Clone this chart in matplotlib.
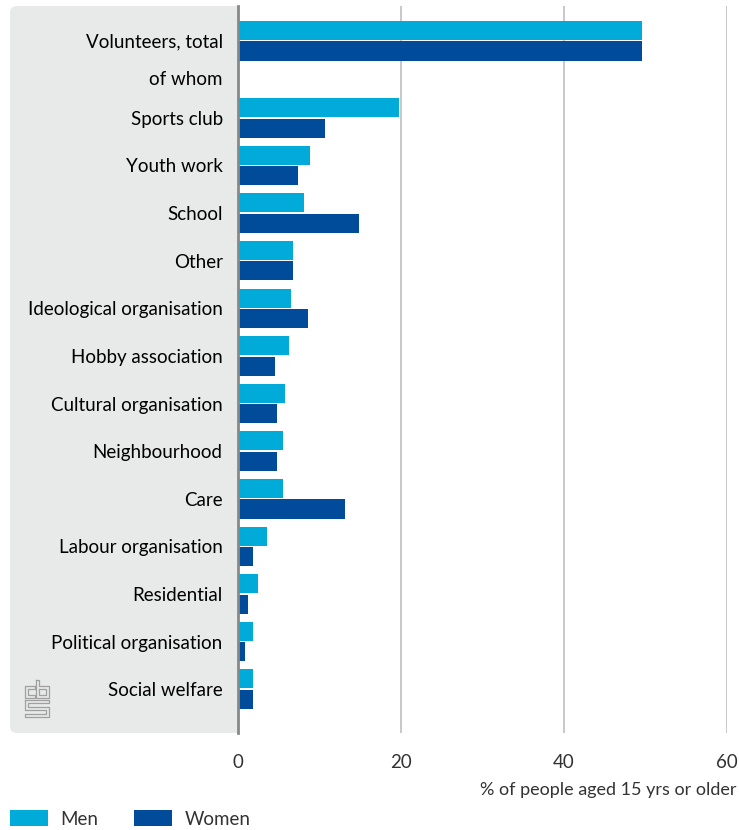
import matplotlib.pyplot as plt
import matplotlib.patches as mpatches
from matplotlib.transforms import IdentityTransform
import numpy as np

plt.rcParams["font.family"] = ["Lato", "DejaVu Sans"]
plt.rcParams["text.color"] = "#333333"

# data (percent of people aged 15 or older)
categories = ["Sports club", "Youth work", "School", "Other", "Ideological organisation",
              "Hobby association", "Cultural organisation", "Neighbourhood", "Care",
              "Labour organisation", "Residential", "Political organisation", "Social welfare"]
men = [19.8, 8.8, 8.1, 6.8, 6.5, 6.2, 5.8, 5.5, 5.5, 3.5, 2.5, 1.8, 1.8]
women = [10.7, 7.4, 14.8, 6.8, 8.6, 4.5, 4.8, 4.8, 13.1, 1.8, 1.2, 0.8, 1.8]
total_label = "Volunteers, total"
total_men = 49.6
total_women = 49.6
sub_label = "of whom"

men_color = "#00abd9"
women_color = "#004c9b"
panel_color = "#e8e9e9"

W, H = 739, 830
fig = plt.figure(figsize=(W / 100, H / 100), dpi=100)
ax = fig.add_axes([238 / W, 1 - 733 / H, (727 - 238) / W, (733 - 6) / H])

# grey panel behind the category labels (rounded on the left)
panel = mpatches.FancyBboxPatch((10, H - 733), 245, 727, boxstyle="round,pad=0,rounding_size=7",
                                transform=IdentityTransform(), facecolor=panel_color,
                                edgecolor="none", zorder=-2)
fig.patches.append(panel)

ypos = np.arange(len(categories))
total_y = -1.62
sub_y = -0.84
bh = 0.4
off = 0.215

ax.barh([total_y - off], [total_men], height=bh, color=men_color, label="Men", zorder=3)
ax.barh([total_y + off], [total_women], height=bh, color=women_color, label="Women", zorder=3)
ax.barh(ypos - off, men, height=bh, color=men_color, zorder=3)
ax.barh(ypos + off, women, height=bh, color=women_color, zorder=3)

ax.set_yticks([total_y, sub_y] + list(ypos))
ax.set_yticklabels([total_label, sub_label] + categories, fontsize=13.5)
ax.set_ylim(12.92, -2.35)
ax.set_xlim(0, 60)
ax.set_xticks([0, 20, 40, 60])
ax.tick_params(axis="y", length=0, pad=11)
ax.tick_params(axis="x", length=0, pad=15, labelsize=13.5, labelcolor="#333333")

ax.grid(axis="x", color="#c4c4c4", linewidth=1.3, zorder=1)
ax.set_axisbelow(True)
for s in ["top", "right", "bottom"]:
    ax.spines[s].set_visible(False)
ax.spines["left"].set_color("#888888")
ax.spines["left"].set_linewidth(2)
ax.spines["left"].set_zorder(4)

fig.text(737 / W, 1 - 790 / H, "% of people aged 15 yrs or older", ha="right", va="center",
         fontsize=13)

# small cbs logo in the panel corner (outlined glyphs)
lc = "#a0a0a0"
logo = [
    [(35, 686), (25, 686), (25, 698), (35, 698), (35, 695), (28, 695), (28, 689), (35, 689), (35, 686)],
    [(36, 680), (39, 680), (39, 686), (49, 686), (49, 698), (36, 698), (36, 680)],
    [(39, 689), (46, 689), (46, 695), (39, 695), (39, 689)],
    [(25, 700), (49, 700), (49, 703), (28, 703), (28, 707), (49, 707), (49, 717), (25, 717),
     (25, 714), (46, 714), (46, 710), (25, 710), (25, 700)],
]
for pts in logo:
    xs = [p[0] for p in pts]
    ys = [H - p[1] for p in pts]
    fig.lines.append(plt.Line2D(xs, ys, transform=IdentityTransform(), color=lc, linewidth=0.9))

fig.legend(loc="lower left", bbox_to_anchor=(10 / W, 0.003), ncol=2, frameon=False,
           fontsize=13.5, handlelength=2.0, handleheight=1.0, handletextpad=0.7,
           columnspacing=1.9, borderpad=0, borderaxespad=0)

fig.savefig("out.png", dpi=100)
